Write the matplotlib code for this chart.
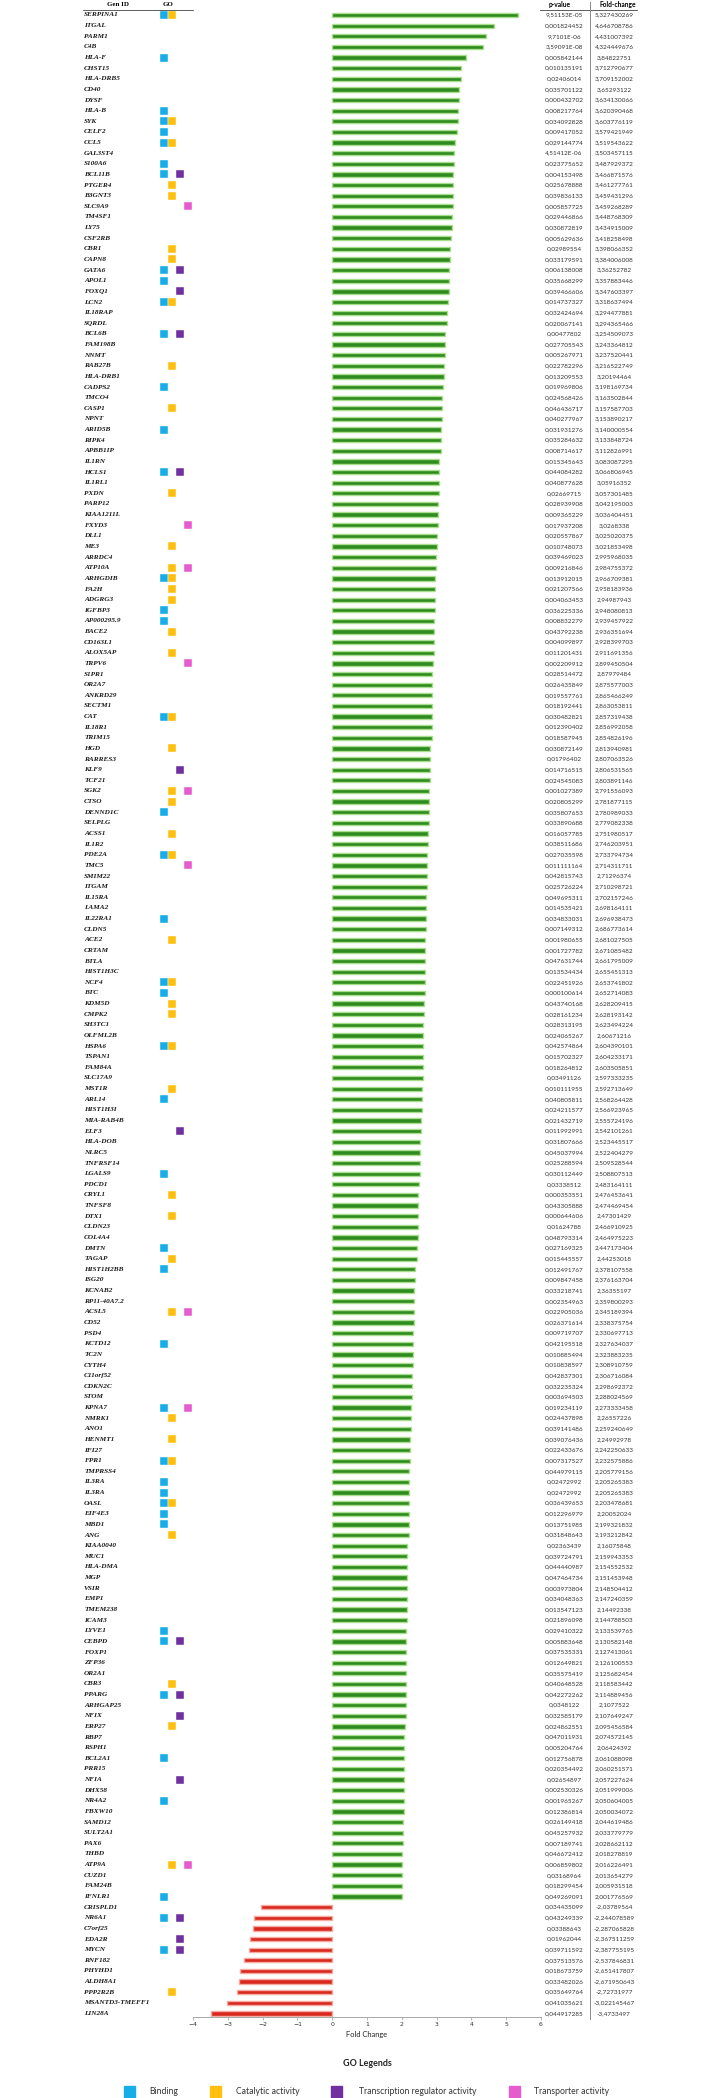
import matplotlib
matplotlib.use("Agg")
import matplotlib.pyplot as plt
import matplotlib.transforms as mtransforms
from matplotlib.patches import Rectangle
from matplotlib.lines import Line2D

# ---------------------------------------------------------------------------
# Data
# ---------------------------------------------------------------------------
genes = [
    "SERPINA1", "ITGAL", "PARM1", "C4B", "HLA-F", "CHST15", "HLA-DRB5", "CD40", "DYSF", "HLA-B",
    "SYK", "CELF2", "CCL5", "GAL3ST4", "S100A6", "BCL11B", "PTGER4", "B3GNT3", "SLC9A9", "TM4SF1",
    "LY75", "CSF2RB", "CBR1", "CAPN8", "GATA6", "APOL1", "FOXQ1", "LCN2", "IL18RAP", "SQRDL",
    "BCL6B", "FAM198B", "NNMT", "RAB27B", "HLA-DRB1", "CADPS2", "TMCO4", "CASP1", "NPNT", "ARID5B",
    "RIPK4", "APBB1IP", "IL1RN", "HCLS1", "IL1RL1", "PXDN", "PARP12", "KIAA1211L", "FXYD3", "DLL1",
    "ME3", "ARRDC4", "ATP10A", "ARHGDIB", "FA2H", "ADGRG3", "IGFBP3", "AP000295.9", "BACE2", "CD163L1",
    "ALOX5AP", "TRPV6", "S1PR1", "OR2A7", "ANKRD29", "SECTM1", "CAT", "IL18R1", "TRIM15", "HGD",
    "RARRES3", "KLF9", "TCF21", "SGK2", "CTSO", "DENND1C", "SELPLG", "ACSS1", "IL1R2", "PDE2A",
    "TMC5", "SMIM22", "ITGAM", "IL15RA", "LAMA2", "IL22RA1", "CLDN5", "ACE2", "CRTAM", "BTLA",
    "HIST1H3C", "NCF4", "BTC", "KDM5D", "CMPK2", "SH3TC1", "OLFML2B", "HSPA6", "TSPAN1", "FAM84A",
    "SLC17A9", "MST1R", "ARL14", "HIST1H3I", "MIA-RAB4B", "ELF3", "HLA-DOB", "NLRC5", "TNFRSF14", "LGALS9",
    "PDCD1", "CRYL1", "TNFSF8", "DTX1", "CLDN23", "COL4A4", "DMTN", "TAGAP", "HIST1H2BB", "ISG20",
    "KCNAB2", "RP11-40A7.2", "ACSL5", "CD52", "PSD4", "KCTD12", "TC2N", "CYTH4", "C11orf52", "CDKN2C",
    "STOM", "KPNA7", "NMRK1", "ANO1", "HENMT1", "IFI27", "FPR1", "TMPRSS4", "IL3RA", "IL3RA",
    "OASL", "EIF4E3", "MBD1", "ANG", "KIAA0040", "MUC1", "HLA-DMA", "MGP", "VSIR", "EMP1",
    "TMEM238", "ICAM3", "LYVE1", "CEBPD", "FOXP1", "ZFP36", "OR2A1", "CBR3", "PPARG", "ARHGAP25",
    "NFIX", "ERP27", "RBP7", "RSPH1", "BCL2A1", "PRR15", "NFIA", "DHX58", "NR4A2", "FBXW10",
    "SAMD12", "SULT2A1", "PAX6", "THBD", "ATP9A", "CUZD1", "FAM24B", "IFNLR1", "CRISPLD1", "NR6A1",
    "C7orf25", "EDA2R", "MYCN", "RNF182", "PHYHD1", "ALDH8A1", "PPP2R2B", "MSANTD3-TMEFF1", "LIN28A",
]

# GO codes: B = binding, C = catalytic, T = transcription regulator, P = transporter
go_terms = [
    "BC", "", "", "", "B", "", "", "", "", "B",
    "BC", "B", "BC", "", "B", "BT", "C", "C", "P", "",
    "", "", "C", "C", "BT", "B", "T", "BC", "", "",
    "BT", "", "", "C", "", "B", "", "C", "", "B",
    "", "", "", "BT", "", "C", "", "", "P", "",
    "C", "", "CP", "BC", "C", "C", "B", "B", "C", "",
    "C", "P", "", "", "", "", "BC", "", "", "C",
    "", "T", "", "CP", "C", "B", "", "C", "", "BC",
    "P", "", "", "", "", "B", "", "C", "", "",
    "", "BC", "B", "C", "C", "", "", "BC", "", "",
    "", "C", "B", "", "", "T", "", "", "", "B",
    "", "C", "", "C", "", "", "B", "C", "B", "",
    "", "", "CP", "", "", "B", "", "", "", "",
    "", "BP", "C", "", "C", "", "BC", "", "B", "B",
    "BC", "B", "B", "C", "", "", "", "", "", "",
    "", "", "B", "BT", "", "", "", "C", "BT", "",
    "T", "C", "", "", "B", "", "T", "", "B", "",
    "", "", "", "", "CP", "", "", "B", "", "BT",
    "", "T", "BT", "", "", "", "C", "", "",
]

p_values = [
    9.51153e-05, 0.001824452, 9.7101e-06, 3.59091e-08, 0.005842144, 0.010135191, 0.02406014, 0.035701122, 0.000432702, 0.008217764,
    0.034092828, 0.009417052, 0.029144774, 4.51412e-06, 0.023775652, 0.004153498, 0.025678888, 0.039836133, 0.005857725, 0.029446866,
    0.030872819, 0.005629636, 0.02989554, 0.033179591, 0.006138008, 0.035668299, 0.039466606, 0.014737327, 0.032424694, 0.020067141,
    0.00477802, 0.027705543, 0.005267971, 0.022782296, 0.013209553, 0.019969806, 0.024568426, 0.046436717, 0.040277967, 0.031931276,
    0.035284632, 0.008714617, 0.015345643, 0.044084282, 0.040877628, 0.02669715, 0.028939908, 0.009365229, 0.017937208, 0.020557867,
    0.010748073, 0.039469023, 0.009216846, 0.013912015, 0.021207566, 0.004063453, 0.036225336, 0.008832279, 0.043792238, 0.004099897,
    0.011201431, 0.002209912, 0.028514472, 0.026435849, 0.019557761, 0.018192441, 0.030482821, 0.012390402, 0.018587945, 0.030872149,
    0.01796402, 0.014716515, 0.024545083, 0.001027389, 0.020805299, 0.035807653, 0.033890688, 0.016057785, 0.038511686, 0.027035598,
    0.011111164, 0.042815743, 0.025726224, 0.049695311, 0.014535421, 0.034833031, 0.007149312, 0.001980655, 0.001727782, 0.047631744,
    0.013534434, 0.022451926, 0.000100614, 0.043740168, 0.028161234, 0.028313195, 0.024065267, 0.042574864, 0.015702327, 0.018264812,
    0.03491126, 0.010111955, 0.040805811, 0.024211577, 0.021432719, 0.011992991, 0.031807666, 0.045037994, 0.025288594, 0.030112449,
    0.03338512, 0.000353551, 0.043305888, 0.000644606, 0.01624788, 0.048793314, 0.027169325, 0.015445557, 0.012491767, 0.009847458,
    0.033218741, 0.002354963, 0.022905036, 0.026371614, 0.009719707, 0.042195518, 0.010885494, 0.010838597, 0.042837301, 0.032235324,
    0.003694503, 0.019234119, 0.024437898, 0.039141486, 0.039076436, 0.022433676, 0.007317527, 0.044979115, 0.02472992, 0.02472992,
    0.036439653, 0.012296979, 0.013751985, 0.031848643, 0.02363439, 0.039724791, 0.044440987, 0.047464734, 0.003973804, 0.034048363,
    0.013547123, 0.021896098, 0.029410322, 0.005883648, 0.037535331, 0.012649821, 0.035575419, 0.040648528, 0.042272262, 0.0348122,
    0.032585179, 0.024862551, 0.047011931, 0.005204764, 0.012756878, 0.020354492, 0.02654897, 0.002530326, 0.001965267, 0.012386814,
    0.026149418, 0.045257932, 0.007189741, 0.046672412, 0.006859802, 0.03168964, 0.018299454, 0.049269091, 0.034435099, 0.043249339,
    0.03388643, 0.01962044, 0.039711592, 0.037513576, 0.018673759, 0.033482026, 0.035649764, 0.041035621, 0.044917285,
]

fold_change = [
    5.327430269, 4.646708786, 4.431007392, 4.324449676, 3.84822751, 3.712790677, 3.709152002, 3.65293122, 3.634130066, 3.620390468,
    3.603776119, 3.579421949, 3.519543622, 3.503457115, 3.487929372, 3.466871576, 3.461277761, 3.459431296, 3.459268289, 3.448768309,
    3.434915009, 3.418258498, 3.398066352, 3.384006008, 3.36252782, 3.357883446, 3.347603397, 3.318637494, 3.294477881, 3.294365466,
    3.254509073, 3.243364812, 3.237520441, 3.216522749, 3.20194464, 3.198169734, 3.163502844, 3.157587703, 3.153890217, 3.140000554,
    3.133848724, 3.112826991, 3.083087295, 3.066806945, 3.05916352, 3.057301485, 3.042195003, 3.036404451, 3.0268338, 3.025020375,
    3.021853498, 2.995968035, 2.984755372, 2.966709381, 2.958183936, 2.94987943, 2.948080813, 2.939457922, 2.936351694, 2.928399703,
    2.911691356, 2.899450504, 2.87979484, 2.875577003, 2.865466249, 2.863053811, 2.857319438, 2.856992058, 2.854826196, 2.813940981,
    2.807063526, 2.806531565, 2.803891146, 2.791556093, 2.781877115, 2.780989033, 2.779082338, 2.751980517, 2.746203951, 2.733794734,
    2.714311711, 2.71296374, 2.710298721, 2.702157246, 2.698164111, 2.696938473, 2.686773614, 2.681027505, 2.671085482, 2.661795009,
    2.655451313, 2.653741802, 2.652714083, 2.628209415, 2.628193142, 2.623494224, 2.60671216, 2.604390101, 2.604233171, 2.603505851,
    2.597333235, 2.592713649, 2.568264428, 2.566923965, 2.555724196, 2.542101261, 2.523445517, 2.522404279, 2.509528544, 2.508807513,
    2.483164111, 2.476453641, 2.474469454, 2.47301429, 2.466910925, 2.464975223, 2.447173404, 2.44253018, 2.378107558, 2.376163704,
    2.36355197, 2.359800293, 2.345189394, 2.338375754, 2.330697713, 2.327634037, 2.323883235, 2.308910759, 2.306716084, 2.298692372,
    2.288024569, 2.273333458, 2.26557226, 2.259240649, 2.24992978, 2.242250633, 2.232575886, 2.205779156, 2.205265383, 2.205265383,
    2.203478681, 2.20052024, 2.199321832, 2.193212842, 2.16075848, 2.159943353, 2.154552532, 2.151453948, 2.148504412, 2.147240359,
    2.14492338, 2.144788503, 2.133539765, 2.130582148, 2.127413061, 2.126100553, 2.125682454, 2.118583442, 2.114889456, 2.1077522,
    2.107649247, 2.095456584, 2.074572145, 2.06424392, 2.061088098, 2.060251571, 2.057227624, 2.051999006, 2.050604005, 2.050034072,
    2.044619486, 2.033779779, 2.028662112, 2.018278819, 2.016226491, 2.013654279, 2.005931518, 2.001776569, -2.03789564, -2.244078589,
    -2.287065828, -2.367511259, -2.387755195, -2.537846831, -2.651417807, -2.671950643, -2.72731977, -3.022145467, -3.4733497,
]

go_codes = ["B", "C", "T", "P"]
go_names = ["Binding", "Catalytic activity", "Transcription regulator activity", "Transporter activity"]
go_colors = ["#16ADE8", "#FFBF0F", "#7030A0", "#E65CD0"]
x_ticks = [-4, -3, -2, -1, 0, 1, 2, 3, 4, 5, 6]


def fmt(v):
    return repr(v).replace("e", "E").replace(".", ",")


# ---------------------------------------------------------------------------
# Layout (pixels on a 720 x 2098 canvas)
# ---------------------------------------------------------------------------
W, H = 720, 2098
fig = plt.figure(figsize=(W / 100, H / 100), dpi=100)

row0, step = 15.0, 10.63
ax_top, ax_bot = 10.0, 2017.0
ax_l, ax_r = 193.0, 541.0
ax = fig.add_axes([ax_l / W, 1 - ax_bot / H, (ax_r - ax_l) / W, (ax_bot - ax_top) / H])
n = len(genes)
ax.set_ylim((ax_bot - row0) / step, (ax_top - row0) / step)
ax.set_xlim(-4, 6)

ypos = list(range(n))
bar_col = ["#2E8B1E" if v > 0 else "#D9281E" for v in fold_change]
edge_col = ["#A9DE8F" if v > 0 else "#F5AAA2" for v in fold_change]
ax.barh(ypos, fold_change, height=0.4, color=bar_col, edgecolor=edge_col, linewidth=1.0)

for s in ["top", "right", "left"]:
    ax.spines[s].set_visible(False)
ax.spines["bottom"].set_color("#9a9a9a")
ax.spines["bottom"].set_linewidth(0.6)
ax.set_yticks([])
ax.set_xticks(x_ticks)
ax.tick_params(axis="x", length=2, width=0.5, color="#9a9a9a", labelsize=4.4, pad=1.5, labelcolor="#333333")
ax.set_xlabel("Fold Change", fontsize=5.4, family="Lato", color="#222222", labelpad=3)

trans = mtransforms.blended_transform_factory(fig.transFigure, ax.transData)

# gene names, p-values, fold-change text
for i, g in enumerate(genes):
    ax.text(84 / W, i, g, transform=trans, ha="left", va="center", fontsize=5.2,
            family="Liberation Serif", weight="bold", style="italic", color="#1a1a1a", clip_on=False)
    ax.text(564 / W, i, fmt(p_values[i]), transform=trans, ha="center", va="center",
            fontsize=4.6, family="Lato", color="#333333", clip_on=False)
    ax.text(614 / W, i, fmt(fold_change[i]), transform=trans, ha="center", va="center",
            fontsize=4.6, family="Lato", color="#333333", clip_on=False)

# GO squares
go_x = [163.5, 172.0, 180.0, 188.0]
for k, code in enumerate(go_codes):
    rows = [i for i, t in enumerate(go_terms) if code in t]
    ax.scatter([go_x[k] / W] * len(rows), rows, marker="s", s=34, color=go_colors[k],
               edgecolors="white", linewidths=0.3, transform=trans, clip_on=False, zorder=3)

# headers
hy = 1 - 5 / H
fig.text(118 / W, hy, "Gen ID", ha="center", va="center", fontsize=5.0,
         family="Liberation Serif", weight="bold")
fig.text(168 / W, hy, "GO", ha="center", va="center", fontsize=5.0,
         family="Liberation Serif", weight="bold")
fig.text(560 / W, hy, "p-value", ha="center", va="center", fontsize=4.8, family="Lato", weight="bold")
fig.text(618 / W, hy, "Fold-change", ha="center", va="center", fontsize=4.8, family="Lato", weight="bold")
ly = 1 - 9.5 / H
fig.add_artist(Line2D([83 / W, 193 / W], [ly, ly], color="#444444", lw=0.6))
fig.add_artist(Line2D([540 / W, 637 / W], [ly, ly], color="#444444", lw=0.6))
fig.add_artist(Line2D([590 / W, 590 / W], [1 - 2 / H, 1 - 2019 / H], color="#888888", lw=0.7))

# GO legend
fig.text(367 / W, 1 - 2064 / H, "GO Legends", ha="center", va="center", fontsize=6.4,
         family="Lato", weight="bold", color="#222222")
box_x = [124, 210, 331, 509]
txt_x = [164, 268, 418, 572]
for k in range(len(go_names)):
    fig.add_artist(Rectangle((box_x[k] / W, 1 - 2098 / H), 11 / W, 12 / H,
                             transform=fig.transFigure, color=go_colors[k]))
    fig.text(txt_x[k] / W, 1 - 2092 / H, go_names[k], ha="center", va="center",
             fontsize=6.2, family="Lato", color="#333333")

fig.savefig("out.png", dpi=100)
